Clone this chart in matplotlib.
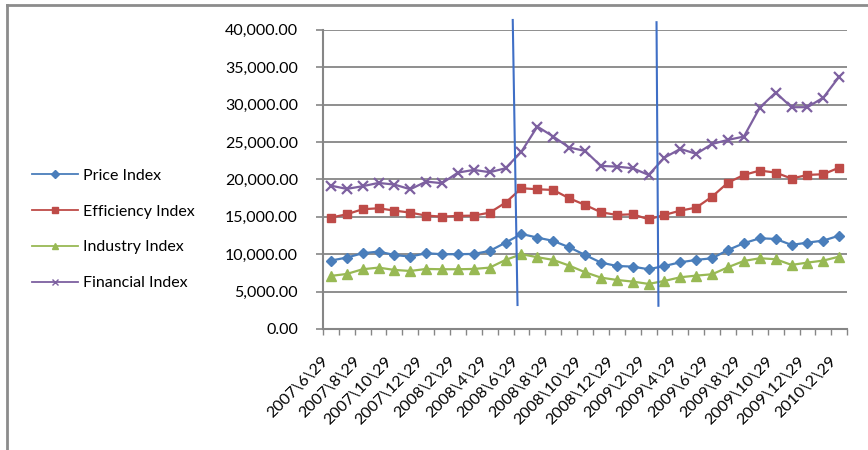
import matplotlib
matplotlib.use("Agg")
import matplotlib.pyplot as plt
from matplotlib.ticker import FuncFormatter, FixedLocator
from matplotlib.lines import Line2D

plt.rcParams['font.family'] = ['Lato', 'DejaVu Sans']

# monthly dates, 2007\6\29 .. 2010\2\29
dates = []
for k in range(33):
    y = 2007 + (5 + k) // 12
    m = (5 + k) % 12 + 1
    dates.append("%d\\%d\\29" % (y, m))

price = [9140, 9540, 10120, 10340, 9890, 9670, 10120, 9990, 9990, 10030, 10430,
         11540, 12700, 12210, 11770, 10920, 9890, 8870, 8420, 8330, 7980, 8420,
         8910, 9230, 9450, 10560, 11460, 12120, 12030, 11230, 11540, 11810, 12480]
efficiency = [14880, 15330, 16000, 16130, 15820, 15550, 15150, 15020, 15110, 15150, 15550,
              16890, 18810, 18670, 18580, 17470, 16580, 15600, 15240, 15330, 14660, 15240,
              15820, 16220, 17690, 19560, 20590, 21170, 20900, 20100, 20590, 20680, 21570]
industry = [7090, 7350, 7980, 8200, 7890, 7750, 8020, 7980, 7980, 8020, 8200,
            9230, 9990, 9590, 9230, 8470, 7580, 6860, 6550, 6330, 6020, 6420,
            6910, 7130, 7310, 8250, 9090, 9450, 9320, 8560, 8870, 9140, 9670]
financial = [19160, 18720, 19080, 19520, 19300, 18670, 19700, 19480, 20900, 21260, 20950,
             21480, 23710, 27050, 25720, 24250, 23800, 21790, 21700, 21480, 20590, 22900,
             24070, 23400, 24730, 25270, 25720, 29590, 31600, 29640, 29640, 30930, 33730]

series = [
    ("Price Index", price, "#4A7EBB", "D", 5.5),
    ("Efficiency Index", efficiency, "#BE4B48", "s", 6),
    ("Industry Index", industry, "#98B954", "^", 6.5),
    ("Financial Index", financial, "#7D60A0", "x", 6.5),
]

fig = plt.figure(figsize=(8.68, 4.5), dpi=100)
ax = fig.add_axes([0.372, 0.269, 0.604, 0.665])

x = list(range(len(dates)))
handles = []
for name, vals, col, mk, ms in series:
    ax.plot(x, vals, color=col, lw=1.6, marker=mk, ms=ms, mew=1.6 if mk == "x" else 1,
            mec=col, mfc=col, zorder=3)
    handles.append(Line2D([], [], color=col, lw=1.3, marker=mk, ms=4.5, mec=col, mfc=col))

grey = "#868686"
ax.set_xlim(-0.5, len(dates) - 0.5)
ax.set_ylim(0, 40000)
ax.set_yticks(range(0, 40001, 5000))
ax.yaxis.set_major_formatter(FuncFormatter(lambda v, p: "{:,.2f}".format(v)))
ax.grid(axis="y", color=grey, lw=1.3)
ax.set_axisbelow(True)

ax.xaxis.set_major_locator(FixedLocator([i - 0.5 for i in range(len(dates) + 1)]))
ax.xaxis.set_minor_locator(FixedLocator(x[::2]))
ax.set_xticklabels([], minor=False)
ax.set_xticklabels(dates[::2], minor=True, rotation=45, ha="right", fontsize=11.5)
ax.tick_params(axis="x", which="major", length=4, color=grey, width=1)
ax.tick_params(axis="x", which="minor", length=0, pad=18)
ax.tick_params(axis="y", length=5, color=grey, width=1.2, labelsize=11.5, pad=13)

for s in ["top", "right"]:
    ax.spines[s].set_visible(False)
for s in ["left", "bottom"]:
    ax.spines[s].set_color(grey)
    ax.spines[s].set_linewidth(1.5)

# vertical break lines
ax.plot([11.45, 11.75], [41300, 3200], color="#3F6FC6", lw=1.5, clip_on=False, zorder=4)
ax.plot([20.5, 20.62], [41000, 3100], color="#3F6FC6", lw=1.5, clip_on=False, zorder=4)

fig.legend(handles, [s[0] for s in series], loc="upper left", bbox_to_anchor=(0.02, 0.657),
           frameon=False, fontsize=11.5, handlelength=2.9, handletextpad=0.3, labelspacing=1.35)

# outer frame
fig.add_artist(Line2D([0.008, 0.008], [0.0, 0.989], color="#8C8C8C", lw=2, transform=fig.transFigure))
fig.add_artist(Line2D([0.008, 1.0], [0.989, 0.989], color="#8C8C8C", lw=2, transform=fig.transFigure))

fig.savefig("out.png", dpi=100)
